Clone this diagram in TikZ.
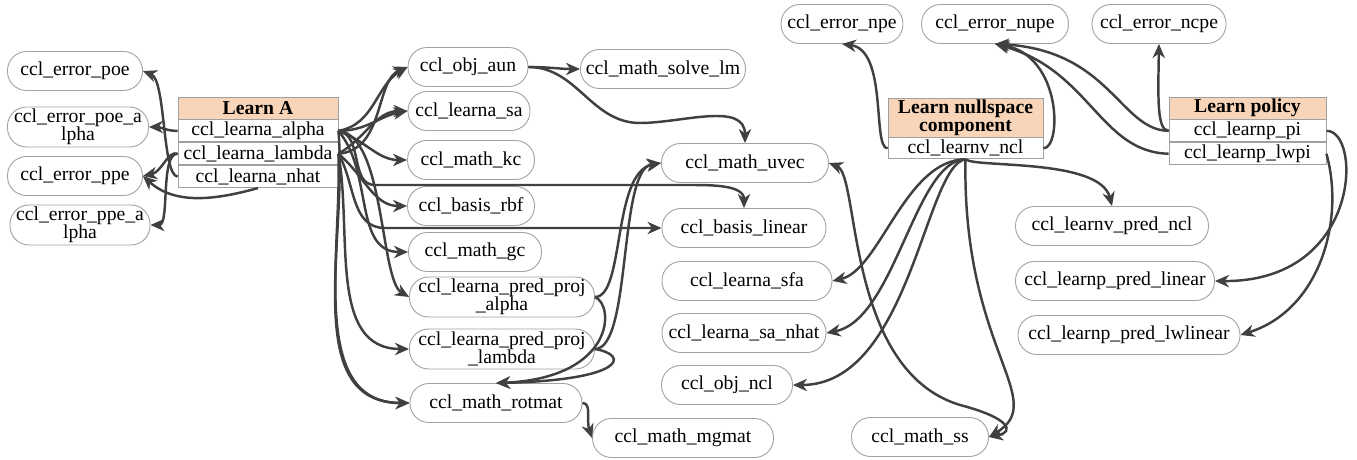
\documentclass[tikz,border=0pt]{standalone}
\usepackage{fontspec}
\setmainfont{Liberation Serif}
\usetikzlibrary{arrows.meta,positioning}

\definecolor{hdrfill}{RGB}{248,213,184}
\definecolor{boxline}{RGB}{160,160,160}
\definecolor{edgegray}{RGB}{64,64,64}

\tikzset{
	>={Stealth[length=8pt,width=7pt,inset=2.5pt]},
	every node/.style={font=\fontsize{11.2}{10.2}\selectfont},
	fn/.style={rectangle, rounded corners=0.38cm, draw=boxline, line width=0.5pt, minimum height=0.78cm, inner sep=1pt, align=center},
	tbl/.style={rectangle, draw=boxline, line width=0.5pt, minimum height=0.44cm, inner sep=0pt, align=center},
	hdr/.style={tbl, fill=hdrfill, font=\fontsize{11.2}{10.2}\selectfont\bfseries},
	rowbox/.style={tbl, fill=white},
	call/.style={draw=edgegray, line width=1.4pt, ->}
}

\begin{document}
\begin{tikzpicture}[x=0.02cm,y=0.02cm]
	\useasboundingbox (0,0) rectangle (1357,-460);

	% error measures
	\node[fn, minimum width=2.7cm] (epoe) at (75,-71) {ccl\_error\_poe};
	\node[fn, minimum width=2.82cm, minimum height=0.8cm] (epoea) at (78,-127) {ccl\_error\_poe\_a\\lpha};
	\node[fn, minimum width=2.7cm] (eppe) at (75,-176) {ccl\_error\_ppe};
	\node[fn, minimum width=2.8cm, minimum height=0.8cm] (eppea) at (80,-225) {ccl\_error\_ppe\_a\\lpha};
	\node[fn, minimum width=2.44cm] (npe) at (842,-24) {ccl\_error\_npe};
	\node[fn, minimum width=2.94cm] (nupe) at (995,-24) {ccl\_error\_nupe};
	\node[fn, minimum width=2.68cm] (ncpe) at (1159,-24) {ccl\_error\_ncpe};

	% Learn A
	\node[hdr, minimum width=3.2cm] (learnA) at (258,-108) {Learn A};
	\node[rowbox, minimum width=3.2cm, below=0pt of learnA] (lalpha) {ccl\_learna\_alpha};
	\node[rowbox, minimum width=3.2cm, below=0pt of lalpha] (llambda) {ccl\_learna\_lambda};
	\node[rowbox, minimum width=3.2cm, below=0pt of llambda] (lnhat) {ccl\_learna\_nhat};

	% Learn nullspace component
	\node[hdr, minimum width=3.1cm, minimum height=0.78cm] (learnV) at (965.5,-117.5) {Learn nullspace\\component};
	\node[rowbox, minimum width=3.1cm, minimum height=0.42cm, below=0pt of learnV] (lvncl) {ccl\_learnv\_ncl};

	% Learn policy
	\node[hdr, minimum width=3.14cm] (learnP) at (1247.5,-108) {Learn policy};
	\node[rowbox, minimum width=3.14cm, below=0pt of learnP] (ppi) {ccl\_learnp\_pi};
	\node[rowbox, minimum width=3.14cm, below=0pt of ppi] (plwpi) {ccl\_learnp\_lwpi};

	% called functions
	\node[fn, minimum width=2.4cm] (aun) at (468,-67) {ccl\_obj\_aun};
	\node[fn, minimum width=2.44cm] (lsa) at (469,-111) {ccl\_learna\_sa};
	\node[fn, minimum width=2.54cm] (mkc) at (471,-160) {ccl\_math\_kc};
	\node[fn, minimum width=2.54cm] (brbf) at (471,-206) {ccl\_basis\_rbf};
	\node[fn, minimum width=2.66cm] (mgc) at (475,-252) {ccl\_math\_gc};
	\node[fn, minimum width=3.7cm, minimum height=0.8cm] (pa) at (502,-297) {ccl\_learna\_pred\_proj\\\_alpha};
	\node[fn, minimum width=3.7cm, minimum height=0.8cm] (pl) at (502,-349) {ccl\_learna\_pred\_proj\\\_lambda};
	\node[fn, minimum width=3.44cm] (rotmat) at (496,-403) {ccl\_math\_rotmat};
	\node[fn, minimum width=3.62cm] (mgmat) at (683,-438) {ccl\_math\_mgmat};
	\node[fn, minimum width=3.3cm] (solve) at (663,-69) {ccl\_math\_solve\_lm};
	\node[fn, minimum width=3.34cm] (uvec) at (745,-163) {ccl\_math\_uvec};
	\node[fn, minimum width=3.28cm] (blin) at (744,-228) {ccl\_basis\_linear};
	\node[fn, minimum width=3.4cm] (sfa) at (747,-281) {ccl\_learna\_sfa};
	\node[fn, minimum width=3.28cm] (sanhat) at (744,-333) {ccl\_learna\_sa\_nhat};
	\node[fn, minimum width=2.62cm] (objncl) at (727,-385) {ccl\_obj\_ncl};
	\node[fn, minimum width=2.74cm] (mss) at (920,-437) {ccl\_math\_ss};
	\node[fn, minimum width=3.86cm] (vpred) at (1112,-226) {ccl\_learnv\_pred\_ncl};
	\node[fn, minimum width=3.98cm] (plinear) at (1115,-281) {ccl\_learnp\_pred\_linear};
	\node[fn, minimum width=4.44cm] (plwl) at (1129,-335) {ccl\_learnp\_pred\_lwlinear};

	% Learn A calls
	\draw[call] (lalpha.west) to[out=180,in=0] (epoea.east);
	\draw[call] (lnhat.west) .. controls (162,-175) and (166,-80) .. (epoe.east);
	\draw[call] (llambda.west) .. controls (160,-153) and (170,-225) .. (eppea.east);
	\draw[call] (llambda.west) .. controls (168,-150) and (162,-172) .. (eppe.east);
	\draw[call] (lnhat.south) .. controls (215,-200) and (175,-205) .. (eppe.east);
	\draw[call] (lalpha.east) to[out=10,in=210] (aun.west);
	\draw[call] (llambda.east) .. controls (385,-150) and (375,-80) .. (aun.west);
	\draw[call] (lalpha.east) to[out=0,in=190] (lsa.west);
	\draw[call] (llambda.east) to[out=30,in=180] (lsa.west);
	\draw[call] (lalpha.east) to[out=-20,in=180] (mkc.west);
	\draw[call] (llambda.east) to[out=-40,in=180] (brbf.west);
	\draw[call] (lalpha.east) to[out=-10,in=180] (375,-185) -- (690,-185) to[out=0,in=90] (blin.north);
	\draw[call] (llambda.east) to[out=-60,in=180] (385,-228) -- (blin.west);
	\draw[call] (lalpha.east) to[out=-50,in=180] (mgc.west);
	\draw[call] (lalpha.east) .. controls (385,-135) and (380,-280) .. (pa.west);
	\draw[call] (llambda.east) to[out=-80,in=180] (pl.west);
	\draw[call] (lalpha.east) to[out=-85,in=180] (rotmat.west);
	\draw[call] (llambda.east) to[out=-88,in=180] (rotmat.west);

	\draw[call] (aun.east) to[out=0,in=180] (solve.west);
	\draw[call] (aun.east) to[out=0,in=180] (640,-123) to[out=0,in=90] (uvec.north);
	\draw[call] (pa.east) .. controls (625,-297) and (612,-172) .. (uvec.west);
	\draw[call] (pl.east) .. controls (632,-349) and (618,-168) .. (uvec.west);
	\draw[call] (pa.east) .. controls (615,-305) and (615,-378) .. (rotmat.north);
	\draw[call] (pl.east) .. controls (630,-355) and (625,-380) .. (rotmat.north);
	\draw[call] (rotmat.east) .. controls (592,-403) and (586,-420) .. (mgmat.west);

	% Learn nullspace component calls
	\draw[call] (lvncl.west) .. controls (872,-148) and (888,-50) .. (npe.south);
	\draw[call] (lvncl.east) .. controls (1062,-148) and (1062,-55) .. (nupe.south);
	\draw[call] (lvncl.south) .. controls (905,-160) and (880,-270) .. (sfa.east);
	\draw[call] (lvncl.south) .. controls (915,-160) and (895,-320) .. (sanhat.east);
	\draw[call] (lvncl.south) .. controls (925,-165) and (910,-385) .. (objncl.east);
	\draw[call] (lvncl.south) .. controls (962,-350) and (1050,-400) .. (mss.east);
	\draw[call] (lvncl.south) .. controls (975,-168) and (1100,-158) .. (vpred.north);
	\draw[call,<->] (uvec.east) .. controls (860,-175) and (845,-370) .. (960,-405) .. controls (1010,-418) and (1015,-432) .. (mss.east);

	% Learn policy calls
	\draw[call] (ppi.west) .. controls (1157,-130) and (1158,-100) .. (ncpe.south);
	\draw[call] (ppi.west) .. controls (1120,-130) and (1110,-50) .. (nupe.south);
	\draw[call] (plwpi.west) .. controls (1100,-152) and (1090,-70) .. (nupe.south);
	\draw[call] (ppi.east) .. controls (1362,-130) and (1362,-282) .. (plinear.east);
	\draw[call] (plwpi.east) .. controls (1345,-220) and (1320,-310) .. (plwl.east);
\end{tikzpicture}
\end{document}
